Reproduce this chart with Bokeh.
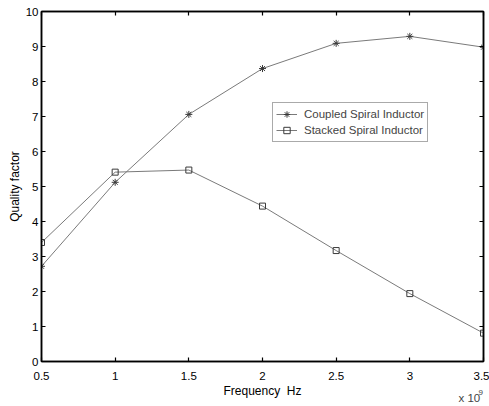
from bokeh.plotting import figure
from bokeh.models import (LinearAxis, Range1d, FixedTicker, Legend, LegendItem, Label)
from bokeh.embed import file_html
from bokeh.resources import INLINE

# Frequency in units of 1e9 Hz
freq = [0.5, 1.0, 1.5, 2.0, 2.5, 3.0, 3.5]
coupled_q = [2.72, 5.12, 7.06, 8.37, 9.09, 9.29, 8.98]
stacked_q = [3.40, 5.41, 5.47, 4.44, 3.17, 1.94, 0.81]

x_ticks = [0.5, 1, 1.5, 2, 2.5, 3, 3.5]
x_tick_text = ["0.5", "1", "1.5", "2", "2.5", "3", "3.5"]
y_ticks = list(range(0, 11))

FONT = "Liberation Sans"
FS = "12px"

p = figure(width=489, height=406, output_backend="svg", toolbar_location=None,
           x_range=Range1d(0.5, 3.5), y_range=Range1d(0, 10),
           frame_width=442, frame_height=350,
           min_border_left=41, min_border_right=6, min_border_top=11, min_border_bottom=45,
           x_axis_location=None, y_axis_location=None)
p.xgrid.visible = False
p.ygrid.visible = False
p.outline_line_color = "black"
p.outline_line_width = 1.5
p.background_fill_color = "white"
p.border_fill_color = "white"


def styled_axis(axis, ticks, texts):
    axis.ticker = FixedTicker(ticks=ticks)
    axis.major_tick_in = 4
    axis.major_tick_out = 0
    axis.minor_tick_line_color = None
    axis.axis_line_color = "black"
    axis.axis_line_width = 1.5
    axis.major_tick_line_color = "black"
    axis.major_tick_line_width = 1.2
    axis.major_label_text_font = FONT
    axis.major_label_text_font_size = "11.5px"
    axis.major_label_text_color = "black"
    axis.major_label_overrides = dict(zip(ticks, texts))
    axis.axis_label_text_font = FONT
    axis.axis_label_text_font_size = FS
    axis.axis_label_text_font_style = "normal"
    axis.axis_label_text_color = "black"
    return axis


xb = styled_axis(LinearAxis(), x_ticks, x_tick_text)
xb.major_label_standoff = 10
xb.axis_label = "Frequency\u00a0\u00a0Hz"
xb.axis_label_standoff = 1
yl = styled_axis(LinearAxis(), y_ticks, [str(t) for t in y_ticks])
yl.major_label_standoff = 3
yl.axis_label = "Quality factor"
yl.axis_label_standoff = 1
# mirrored tick marks on the top and right edges, without labels
xt = styled_axis(LinearAxis(), x_ticks, ["" for _ in x_ticks])
xt.major_label_standoff = 0
yr = styled_axis(LinearAxis(), y_ticks, ["" for _ in y_ticks])
yr.major_label_standoff = 0
p.add_layout(xb, "below")
p.add_layout(yl, "left")
p.add_layout(xt, "above")
p.add_layout(yr, "right")

# exponent note for the frequency axis, kept in the bottom panel
p.add_layout(Label(x=417, y=15, x_units="screen", y_units="screen",
                   text="x 10", text_align="left", text_baseline="middle",
                   text_font=FONT, text_font_size="11.5px"), "below")
p.add_layout(Label(x=437, y=25, x_units="screen", y_units="screen",
                   text="9", text_align="left", text_baseline="middle",
                   text_font=FONT, text_font_size="8px"), "below")

line_col = "#7a7a7a"
mark_col = "#3a3a3a"

c_line = p.line(freq, coupled_q, line_color=line_col, line_width=1)
c_mark = p.scatter(freq, coupled_q, marker="asterisk", size=7, line_color=mark_col, line_width=1)
s_line = p.line(freq, stacked_q, line_color=line_col, line_width=1)
s_mark = p.scatter(freq, stacked_q, marker="square", size=6, fill_color=None,
                   line_color=mark_col, line_width=1)

legend = Legend(items=[
    LegendItem(label="Coupled Spiral Inductor", renderers=[c_line, c_mark]),
    LegendItem(label="Stacked Spiral Inductor", renderers=[s_line, s_mark]),
], location=(231, 219))
legend.label_text_font = FONT
legend.label_text_font_size = "11.5px"
legend.border_line_color = "#555555"
legend.border_line_width = 1
legend.padding = 3
legend.spacing = 0
legend.margin = 0
legend.glyph_width = 21
legend.glyph_height = 16
legend.label_height = 16
legend.label_standoff = 7
p.add_layout(legend, "center")

open("out.html", "w").write(file_html(p, INLINE))
